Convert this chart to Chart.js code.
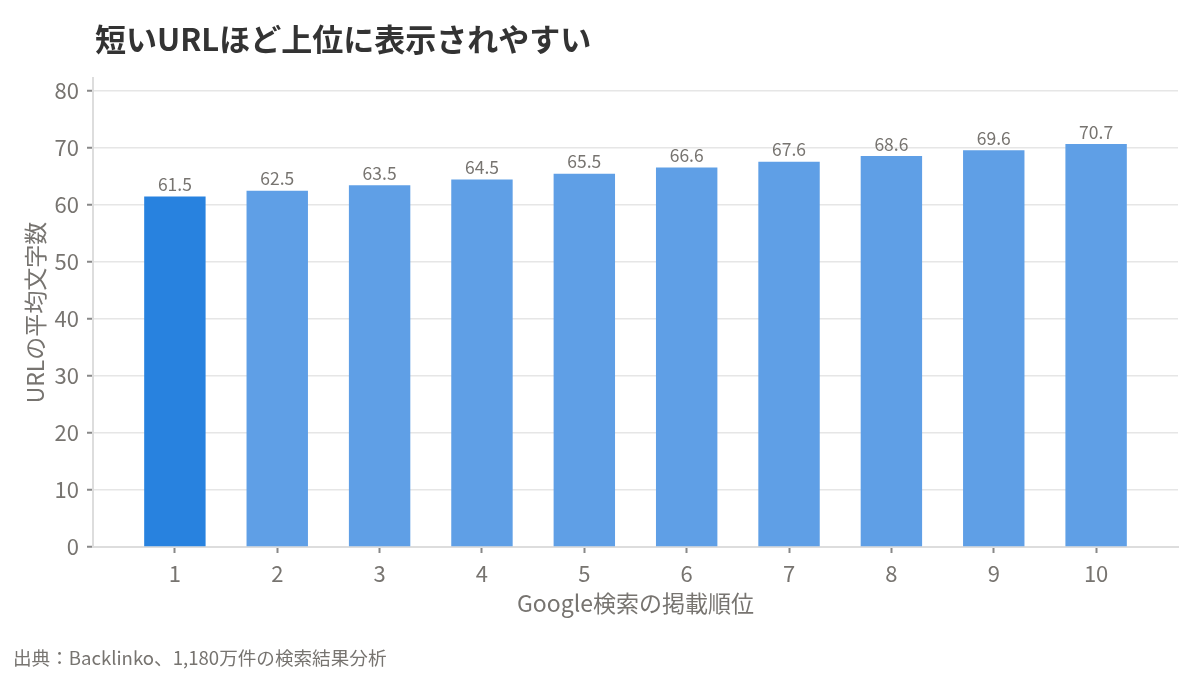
<!DOCTYPE html>
<html>
<head>
<meta charset="utf-8">
<script src="https://cdn.jsdelivr.net/npm/chart.js@4"></script>
<style>
html,body{margin:0;padding:0;background:#fff;}
#wrap{width:1200px;height:675px;position:relative;}
</style>
</head>
<body>
<div id="wrap"><canvas id="c" width="1200" height="675"></canvas></div>
<script>
const ranks = [1, 2, 3, 4, 5, 6, 7, 8, 9, 10];
const avgLength = [61.5, 62.5, 63.5, 64.5, 65.5, 66.6, 67.6, 68.6, 69.6, 70.7];
const yTicks = [0, 10, 20, 30, 40, 50, 60, 70, 80];
const titleText = '短いURLほど上位に表示されやすい';
const sourceText = '出典：Backlinko、1,180万件の検索結果分析';
const xTitle = 'Google検索の掲載順位';
const yTitle = 'URLの平均文字数';

const FONT = '"Noto Sans CJK JP", "Noto Sans", sans-serif';
const GRAY = '#777470';

const extras = {
  id: 'extras',
  afterDraw(chart) {
    const ctx = chart.ctx;
    ctx.save();
    ctx.font = 'bold 31px ' + FONT;
    ctx.fillStyle = '#333333';
    ctx.textAlign = 'left';
    ctx.textBaseline = 'middle';
    ctx.fillText(titleText, 95, 39);
    ctx.font = '18.6px ' + FONT;
    ctx.fillStyle = GRAY;
    ctx.fillText(sourceText, 13, 658);
    const meta = chart.getDatasetMeta(0);
    ctx.font = '17.5px ' + FONT;
    ctx.fillStyle = GRAY;
    ctx.textAlign = 'center';
    meta.data.forEach((bar, i) => {
      ctx.fillText(avgLength[i].toFixed(1), bar.x, bar.y - 12);
    });
    ctx.restore();
  }
};

new Chart(document.getElementById('c'), {
  type: 'bar',
  data: {
    datasets: [{
      data: ranks.map((r, i) => ({x: r, y: avgLength[i]})),
      backgroundColor: ranks.map((r, i) => i === 0 ? '#2882DF' : '#5F9FE6'),
      barPercentage: 0.6,
      categoryPercentage: 1.0,
      borderWidth: 0
    }]
  },
  options: {
    responsive: false,
    animation: false,
    devicePixelRatio: 1,
    layout: { padding: { top: 78, right: 22, bottom: 54, left: 0 } },
    plugins: { legend: { display: false }, tooltip: { enabled: false }, title: { display: false } },
    scales: {
      x: {
        type: 'linear',
        offset: false,
        min: 0.2,
        max: 10.8,
        afterBuildTicks: (s) => { s.ticks = ranks.map(v => ({value: v})); },
        ticks: {
          font: { family: FONT, size: 22 },
          color: GRAY,
          padding: 7,
          autoSkip: false,
          maxRotation: 0,
          callback: (v) => String(v)
        },
        grid: { offset: false, drawOnChartArea: false, drawTicks: true, tickLength: 6, tickColor: '#888888', tickWidth: 2 },
        border: { color: '#dddddd', width: 2 },
        title: {
          display: true,
          text: xTitle,
          font: { family: FONT, size: 23 },
          color: GRAY,
          padding: { top: -4, bottom: 4 }
        }
      },
      y: {
        min: 0,
        max: 82.3,
        afterBuildTicks: (s) => { s.ticks = yTicks.map(v => ({value: v})); },
        afterFit: (s) => { s.width = 93; },
        ticks: {
          font: { family: FONT, size: 22 },
          color: GRAY,
          padding: 8
        },
        grid: { color: '#e6e6e6', lineWidth: 1.5, drawTicks: true, tickLength: 6, tickColor: '#888888', tickWidth: 2 },
        border: { color: '#dddddd', width: 2 },
        title: {
          display: true,
          text: yTitle,
          font: { family: FONT, size: 23 },
          color: GRAY,
          padding: { top: 21, bottom: 0 }
        }
      }
    }
  },
  plugins: [extras]
});
</script>
</body>
</html>
